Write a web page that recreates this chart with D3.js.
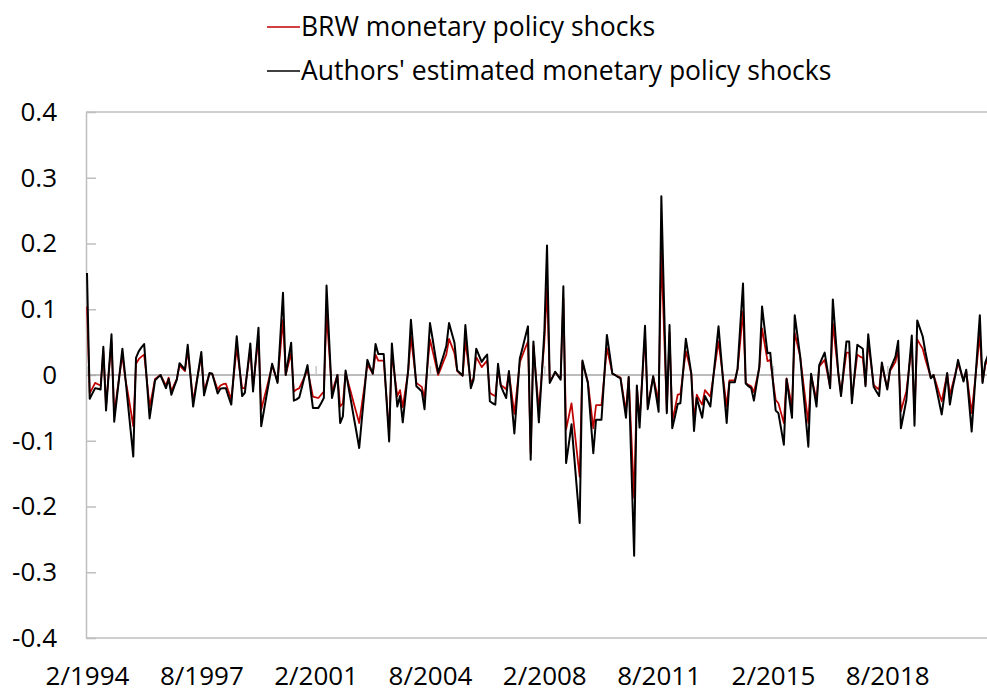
<!DOCTYPE html>
<html>
<head>
<meta charset="utf-8">
<script src="https://cdn.jsdelivr.net/npm/d3@7"></script>
<style>
  body { margin: 0; background: #fff; }
  text { font-family: "Open Sans", "Noto Sans", sans-serif; fill: #000; }
</style>
</head>
<body>
<div id="chart"></div>
<script>
// Monthly shocks, 2/1994 onwards
var brw = [
  0.104,-0.028,-0.020,-0.012,-0.014,-0.016,0.036,-0.047,0.004,0.050,
  -0.060,-0.028,0.002,0.030,-0.004,-0.027,-0.052,-0.078,0.017,0.024,
  0.028,0.031,-0.008,-0.048,-0.028,-0.006,-0.003,0.000,-0.008,-0.016,
  -0.004,-0.025,-0.015,-0.006,0.015,0.010,0.006,0.038,0.000,-0.040,
  -0.016,0.007,0.029,-0.025,-0.011,0.002,0.002,-0.010,-0.022,-0.016,
  -0.014,-0.013,-0.025,-0.037,0.002,0.041,0.010,-0.020,-0.020,0.008,
  0.039,-0.019,0.020,0.059,-0.053,-0.036,-0.020,-0.003,0.014,0.002,
  -0.010,0.037,0.084,0.000,0.017,0.033,-0.025,-0.022,-0.020,-0.011,
  -0.002,0.008,-0.012,-0.033,-0.034,-0.035,-0.030,-0.025,0.094,0.034,
  -0.027,-0.013,0.000,-0.048,-0.043,0.003,-0.012,-0.027,-0.043,-0.058,
  -0.073,-0.044,-0.015,0.016,0.009,0.002,0.031,0.022,0.022,0.022,
  -0.033,-0.088,0.033,0.000,-0.032,-0.023,-0.049,-0.022,0.006,0.058,
  0.023,-0.012,-0.015,-0.018,-0.035,0.010,0.054,0.036,0.018,0.000,
  0.010,0.021,0.031,0.055,0.044,0.033,0.006,0.002,-0.001,0.051,
  0.020,-0.012,-0.005,0.027,0.020,0.012,0.017,0.022,-0.027,-0.030,
  -0.032,0.008,-0.015,-0.018,-0.022,0.004,-0.028,-0.059,-0.020,0.019,
  0.030,0.041,0.051,-0.120,0.045,-0.005,-0.053,-0.002,0.050,0.132,
  -0.008,-0.003,0.004,-0.001,-0.005,0.117,-0.083,-0.063,-0.043,-0.080,
  -0.118,-0.155,0.020,0.004,-0.010,-0.045,-0.081,-0.046,-0.046,-0.046,
  -0.003,0.041,0.022,0.002,0.000,-0.002,-0.004,-0.030,-0.055,-0.003,
  -0.095,-0.187,-0.017,-0.070,-0.004,0.061,-0.048,-0.025,-0.002,-0.021,
  -0.040,0.186,0.065,-0.055,0.065,-0.070,-0.051,-0.030,-0.029,0.004,
  0.036,0.020,0.002,-0.068,-0.030,-0.038,-0.045,-0.023,-0.028,-0.033,
  -0.005,0.023,0.051,0.018,-0.015,-0.048,-0.008,-0.008,-0.008,0.008,
  0.052,0.097,-0.012,-0.015,-0.017,-0.026,-0.008,0.010,0.071,0.046,
  0.021,0.023,-0.008,-0.038,-0.043,-0.058,-0.073,-0.005,-0.027,-0.048,
  0.064,0.046,0.028,-0.006,-0.040,-0.073,0.000,-0.019,-0.038,0.013,
  0.018,0.023,0.003,-0.018,0.079,0.040,0.003,-0.028,0.004,0.034,
  0.034,-0.035,-0.002,0.031,0.028,0.026,-0.015,0.050,0.018,-0.015,
  -0.019,-0.022,0.015,-0.003,-0.020,0.006,0.013,0.020,0.039,-0.055,
  -0.040,-0.025,0.010,0.045,-0.060,0.054,0.047,0.040,0.024,0.010,
  -0.004,0.000,-0.013,-0.027,-0.040,-0.019,0.002,-0.030,-0.014,0.002,
  0.018,0.005,-0.008,0.006,-0.026,-0.058,-0.018,0.021,0.061,-0.010,
  0.015,0.025
];

var authors = [
  0.155,-0.036,-0.028,-0.020,-0.021,-0.022,0.043,-0.054,0.004,0.062,
  -0.071,-0.034,0.003,0.040,0.000,-0.042,-0.083,-0.124,0.026,0.036,
  0.042,0.047,-0.010,-0.066,-0.037,-0.008,-0.004,0.000,-0.010,-0.020,
  -0.006,-0.030,-0.018,-0.007,0.018,0.013,0.008,0.046,-0.001,-0.048,
  -0.020,0.008,0.035,-0.031,-0.014,0.003,0.002,-0.013,-0.028,-0.021,
  -0.020,-0.020,-0.033,-0.045,0.007,0.059,0.013,-0.032,-0.027,0.010,
  0.048,-0.025,0.024,0.072,-0.078,-0.054,-0.030,-0.007,0.017,0.003,
  -0.012,0.056,0.125,0.000,0.025,0.049,-0.039,-0.037,-0.034,-0.018,
  -0.001,0.015,-0.018,-0.050,-0.050,-0.050,-0.043,-0.035,0.136,0.050,
  -0.035,-0.018,0.000,-0.073,-0.063,0.007,-0.017,-0.040,-0.064,-0.087,
  -0.111,-0.066,-0.022,0.023,0.012,0.002,0.047,0.032,0.032,0.032,
  -0.035,-0.101,0.048,0.000,-0.048,-0.032,-0.072,-0.032,0.008,0.084,
  0.034,-0.017,-0.021,-0.025,-0.052,0.013,0.079,0.054,0.028,0.003,
  0.017,0.030,0.044,0.079,0.064,0.049,0.007,0.003,-0.001,0.076,
  0.028,-0.020,-0.007,0.040,0.030,0.020,0.026,0.031,-0.040,-0.043,
  -0.045,0.017,-0.016,-0.026,-0.035,0.006,-0.042,-0.089,-0.032,0.025,
  0.041,0.058,0.074,-0.129,0.051,-0.010,-0.072,-0.004,0.064,0.197,
  -0.012,-0.004,0.005,-0.001,-0.007,0.135,-0.134,-0.105,-0.075,-0.125,
  -0.175,-0.225,0.022,0.005,-0.012,-0.066,-0.119,-0.068,-0.068,-0.068,
  -0.004,0.061,0.032,0.002,0.000,-0.003,-0.005,-0.035,-0.065,-0.003,
  -0.139,-0.275,-0.016,-0.080,-0.003,0.075,-0.052,-0.027,-0.002,-0.029,
  -0.056,0.272,0.107,-0.058,0.076,-0.081,-0.063,-0.044,-0.043,0.006,
  0.055,0.029,0.002,-0.085,-0.035,-0.050,-0.065,-0.032,-0.040,-0.048,
  -0.007,0.033,0.074,0.025,-0.024,-0.073,-0.011,-0.011,-0.011,0.010,
  0.075,0.139,-0.013,-0.017,-0.020,-0.039,-0.013,0.013,0.104,0.068,
  0.033,0.034,-0.010,-0.054,-0.058,-0.082,-0.106,-0.006,-0.036,-0.065,
  0.091,0.060,0.028,-0.018,-0.063,-0.109,0.002,-0.023,-0.048,0.015,
  0.025,0.034,0.008,-0.020,0.115,0.059,0.003,-0.032,0.010,0.051,
  0.051,-0.043,0.002,0.046,0.043,0.040,-0.017,0.062,0.022,-0.018,
  -0.025,-0.032,0.019,-0.002,-0.022,0.008,0.018,0.028,0.052,-0.081,
  -0.060,-0.038,0.011,0.060,-0.077,0.083,0.071,0.059,0.035,0.015,
  -0.005,0.000,-0.020,-0.040,-0.060,-0.030,0.003,-0.045,-0.020,0.000,
  0.023,0.006,-0.010,0.008,-0.039,-0.086,-0.027,0.032,0.091,-0.012,
  0.019,0.030
];

// category axis labels, one every 42 months
var tickLabels = ['2/1994','8/1997','2/2001','8/2004','2/2008','8/2011','2/2015','8/2018'];
var tickStep = 42;
var yTicks = [-0.4,-0.3,-0.2,-0.1,0,0.1,0.2,0.3,0.4];
var seriesNames = ['BRW monetary policy shocks', "Authors' estimated monetary policy shocks"];

var width = 987, height = 694;
var plotLeft = 86, plotTop = 112, plotBottom = 638;
var axisColor = '#bfbfbf';
var fontSize = 26;

var svg = d3.select('#chart')
  .append('svg')
  .attr('width', width)
  .attr('height', height);

var x = d3.scaleLinear()
  .domain([0, authors.length - 1])
  .range([87, 988]);

var y = d3.scaleLinear()
  .domain([-0.4, 0.4])
  .range([plotBottom, plotTop]);

// frame lines top / bottom
[plotTop, plotBottom].forEach(function (yy) {
  svg.append('line')
    .attr('x1', plotLeft).attr('x2', width)
    .attr('y1', yy).attr('y2', yy)
    .attr('stroke', axisColor).attr('stroke-width', 1.5);
});

// Y axis, ticks pointing into the plot (plain hyphen for negatives, as in Excel)
var yAxis = svg.append('g')
  .attr('transform', 'translate(' + plotLeft + ',0)')
  .call(d3.axisLeft(y)
    .tickValues(yTicks)
    .tickSizeInner(-10)
    .tickSizeOuter(0)
    .tickPadding(29)
    .tickFormat(function (d) { return d3.format('.1~f')(d).replace('\u2212', '-'); }));
yAxis.select('.domain').attr('stroke', axisColor).attr('stroke-width', 1.5);
yAxis.selectAll('line').attr('stroke', axisColor).attr('stroke-width', 1.5);
yAxis.selectAll('text')
  .attr('font-size', fontSize)
  .attr('font-family', '"Open Sans", sans-serif')
  .attr('fill', '#000');

// zero line with small category ticks
var tickIdx = tickLabels.map(function (d, i) { return i * tickStep; });
var zeroAxis = svg.append('g')
  .attr('transform', 'translate(0,' + y(0) + ')')
  .call(d3.axisTop(x)
    .tickValues(tickIdx)
    .tickSizeInner(9)
    .tickSizeOuter(0)
    .tickFormat(''));
zeroAxis.select('.domain')
  .attr('d', 'M' + plotLeft + ',0H' + width)
  .attr('stroke', '#a6a6a6').attr('stroke-width', 1.5);
zeroAxis.selectAll('line').attr('stroke', '#c8c8c8').attr('stroke-width', 1.5);

// X labels along the bottom
var xAxis = svg.append('g')
  .attr('transform', 'translate(0,' + plotBottom + ')')
  .call(d3.axisBottom(x)
    .tickValues(tickIdx)
    .tickSize(0)
    .tickPadding(29)
    .tickFormat(function (d, i) { return tickLabels[i]; }));
xAxis.select('.domain').remove();
xAxis.selectAll('text')
  .attr('font-size', fontSize)
  .attr('font-family', '"Open Sans", sans-serif')
  .attr('fill', '#000');

// lines
var line = d3.line()
  .x(function (d, i) { return x(i); })
  .y(function (d) { return y(d); });

svg.append('path')
  .datum(brw)
  .attr('d', line)
  .attr('fill', 'none')
  .attr('stroke', '#c00000')
  .attr('stroke-width', 1.75)
  .attr('stroke-linejoin', 'round');

svg.append('path')
  .datum(authors)
  .attr('d', line)
  .attr('fill', 'none')
  .attr('stroke', '#000')
  .attr('stroke-width', 2)
  .attr('stroke-linejoin', 'round');

// legend
var legend = svg.append('g');
var legendColors = ['#c00000', '#000'];
seriesNames.forEach(function (name, i) {
  var ly = 27 + i * 44;
  legend.append('line')
    .attr('x1', 267).attr('x2', 300)
    .attr('y1', ly).attr('y2', ly)
    .attr('stroke', legendColors[i])
    .attr('stroke-width', 1.5);
  legend.append('text')
    .attr('x', 301)
    .attr('y', ly + 9)
    .attr('font-size', 26.5)
    .text(name);
});
</script>
</body>
</html>
